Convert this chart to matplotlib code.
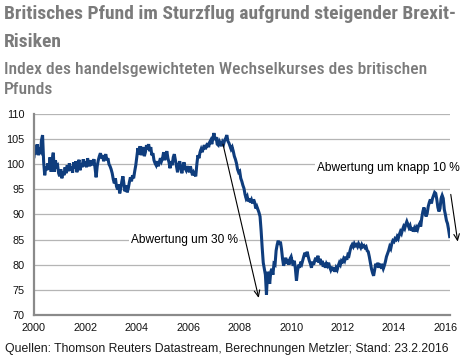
import matplotlib
matplotlib.use("Agg")
import matplotlib.pyplot as plt
import numpy as np
from matplotlib import font_manager

# semi-monthly readings of the trade-weighted GBP index, one list per year
index_2000 = [101.5, 103.8, 102.0, 104.0, 101.8, 102.8, 102.5, 104.8, 105.8, 100.5, 97.8, 99.5,
              98.8, 100.2, 99.0, 101.4, 98.5, 101.0, 102.3, 98.5, 100.8, 99.6, 99.8, 98.2]
index_2001 = [97.6, 99.0, 97.2, 98.5, 97.8, 99.4, 98.2, 99.8, 98.6, 100.2, 98.8, 99.5,
              98.3, 100.4, 99.2, 100.6, 98.4, 99.8, 100.9, 98.8, 100.2, 99.4, 101.0, 99.6]
index_2002 = [100.5, 99.4, 101.2, 100.2, 99.6, 100.8, 99.8, 100.4, 101.0, 99.2, 97.4, 99.6,
              100.8, 101.6, 102.2, 101.2, 101.8, 100.6, 101.4, 102.0, 100.8, 101.2, 100.0, 99.6]
index_2003 = [99.0, 98.2, 97.0, 96.2, 97.2, 95.6, 95.0, 96.0, 94.2, 95.2, 96.6, 97.6,
              96.0, 94.6, 95.8, 94.4, 95.2, 96.4, 97.4, 96.6, 97.8, 97.2, 98.6, 99.8]
index_2004 = [101.5, 103.2, 102.0, 103.6, 101.8, 102.8, 103.4, 101.6, 102.4, 103.8, 103.0, 104.0,
              102.6, 103.4, 101.8, 102.2, 100.8, 100.2, 99.8, 100.6, 99.6, 100.4, 101.2, 100.6]
index_2005 = [101.2, 102.4, 100.8, 101.8, 102.6, 101.2, 100.4, 99.2, 100.6, 99.8, 101.4, 102.0,
              100.8, 99.6, 98.4, 99.8, 100.6, 99.4, 98.2, 99.4, 100.4, 99.2, 98.8, 99.6]
index_2006 = [99.0, 98.4, 99.6, 98.6, 97.8, 98.4, 98.0, 97.6, 100.0, 101.8, 101.2, 102.4,
              103.0, 102.4, 103.2, 103.8, 103.0, 103.6, 104.2, 103.4, 104.4, 104.8, 104.0, 105.2]
index_2007 = [106.2, 104.8, 105.4, 104.0, 103.8, 104.6, 104.2, 103.6, 104.4, 104.0, 104.8, 105.2,
              105.8, 104.6, 104.2, 103.6, 103.0, 103.4, 102.6, 101.6, 101.0, 100.2, 99.0, 98.4]
index_2008 = [98.6, 97.2, 96.6, 95.8, 95.2, 94.0, 93.2, 93.6, 92.6, 93.2, 92.4, 92.9,
              92.2, 93.0, 92.4, 91.2, 91.6, 91.0, 90.4, 89.6, 86.8, 83.4, 80.4, 79.2]
index_2009 = [78.0, 74.0, 78.6, 77.8, 76.2, 78.6, 79.2, 78.0, 80.2, 80.0, 82.8, 84.0,
              84.8, 84.0, 84.6, 83.2, 81.2, 79.8, 80.6, 81.4, 80.2, 81.0, 80.0, 81.2]
index_2010 = [81.6, 80.6, 79.8, 80.8, 79.2, 76.8, 78.8, 80.0, 79.4, 80.6, 80.2, 81.0,
              81.8, 82.4, 81.6, 82.6, 81.6, 80.8, 80.2, 79.4, 80.6, 80.0, 80.8, 81.4]
index_2011 = [80.6, 81.8, 80.4, 81.2, 80.0, 80.8, 79.6, 80.4, 79.4, 80.2, 79.8, 80.4,
              79.6, 79.0, 79.6, 78.8, 79.4, 78.6, 79.4, 79.0, 79.8, 80.4, 80.0, 80.8]
index_2012 = [80.6, 81.2, 80.8, 81.6, 81.0, 82.0, 81.8, 82.8, 83.6, 84.0, 83.6, 84.2,
              83.8, 84.0, 83.6, 84.2, 83.8, 83.4, 84.0, 83.6, 83.8, 83.4, 83.6, 82.8]
index_2013 = [82.6, 81.6, 80.4, 79.2, 78.4, 77.8, 79.0, 80.2, 79.6, 80.4, 79.4, 80.2,
              79.6, 79.8, 79.2, 79.8, 80.6, 81.6, 82.2, 82.8, 83.6, 83.2, 84.2, 84.8]
index_2014 = [84.6, 85.2, 85.0, 85.6, 85.2, 86.0, 86.6, 86.2, 87.0, 87.6, 87.2, 88.0,
              88.6, 88.0, 87.4, 87.8, 86.8, 87.4, 86.6, 87.2, 86.6, 87.4, 87.0, 87.8]
index_2015 = [88.2, 87.6, 89.4, 90.6, 91.4, 90.4, 89.6, 90.2, 91.6, 92.4, 93.0, 92.2,
              93.2, 93.8, 94.4, 94.2, 93.0, 91.4, 90.6, 91.2, 93.2, 93.8, 93.2, 91.0]
index_2016 = [90.0, 88.8, 88.2, 87.0, 85.6]

yearly = [index_2000, index_2001, index_2002, index_2003, index_2004, index_2005,
          index_2006, index_2007, index_2008, index_2009, index_2010, index_2011,
          index_2012, index_2013, index_2014, index_2015, index_2016]

x_ticks = [2000, 2002, 2004, 2006, 2008, 2010, 2012, 2014, 2016]
y_ticks = [70, 75, 80, 85, 90, 95, 100, 105, 110]

title_lines = ["Britisches Pfund im Sturzflug aufgrund steigender Brexit-", "Risiken"]
subtitle_lines = ["Index des handelsgewichteten Wechselkurses des britischen", "Pfunds"]
note_30 = "Abwertung um 30 %"
note_10 = "Abwertung um knapp 10 %"
source = "Quellen: Thomson Reuters Datastream, Berechnungen Metzler; Stand: 23.2.2016"

dates = []
values = []
for i, vals in enumerate(yearly):
    for k, v in enumerate(vals):
        dates.append(2000 + i + k / 24)
        values.append(v)

available = {f.name for f in font_manager.fontManager.ttflist}


def pick(*names):
    for n in names:
        if n in available:
            return n
    return "DejaVu Sans"


narrow = pick("Liberation Sans Narrow", "Roboto Condensed", "Open Sans Condensed", "Liberation Sans")
body = pick("Liberation Sans", "Arial", "DejaVu Sans")
plt.rcParams["font.family"] = body

W, H = 464, 358
fig = plt.figure(figsize=(W / 100, H / 100), dpi=100)
ax = fig.add_axes([34 / W, 1 - 315 / H, 416 / W, 201 / H])

ax.plot(dates, values, color="#0f3d7d", lw=2.2, zorder=3, solid_joinstyle="miter")

ax.set_xlim(2000, 2016.18)
ax.set_ylim(70, 110)
ax.set_xticks(x_ticks)
ax.set_yticks(y_ticks)
ax.tick_params(length=0, labelsize=7.8, colors="#111111")
ax.tick_params(axis="y", pad=7)
ax.tick_params(axis="x", pad=6)
ax.grid(axis="y", color="#b5b5b5", lw=0.9)
ax.set_axisbelow(True)
for s in ["top", "right"]:
    ax.spines[s].set_visible(False)
for s in ["left", "bottom"]:
    ax.spines[s].set_color("#8a8a8a")
    ax.spines[s].set_linewidth(1.6)
    ax.spines[s].set_zorder(4)

box = dict(facecolor="white", edgecolor="none", pad=1)
ax.text(2003.76, 84.9, note_30, fontsize=8.6, va="center", ha="left", bbox=box, zorder=2)
ax.text(2010.99, 99.3, note_10, fontsize=8.6, va="center", ha="left", bbox=box, zorder=2)

arrow = dict(arrowstyle="->,head_length=0.45,head_width=0.2", color="black", lw=0.8,
             shrinkA=0, shrinkB=0)
ax.annotate("", xy=(2008.74, 73.4), xytext=(2007.35, 104.0), arrowprops=arrow,
            annotation_clip=False, zorder=5)
ax.annotate("", xy=(2016.48, 84.6), xytext=(2016.21, 94.0), arrowprops=arrow,
            annotation_clip=False, zorder=5)

gray = "#7b7b7b"
fig.text(4 / W, 1 - 19 / H, title_lines[0], family=narrow, weight="bold", fontsize=14.0,
         color=gray, va="baseline")
fig.text(4 / W, 1 - 47 / H, title_lines[1], family=narrow, weight="bold", fontsize=14.0,
         color=gray, va="baseline")
fig.text(4 / W, 1 - 74 / H, subtitle_lines[0], family=narrow, weight="medium", fontsize=12.6,
         color=gray, va="baseline")
fig.text(4 / W, 1 - 94 / H, subtitle_lines[1], family=narrow, weight="medium", fontsize=12.6,
         color=gray, va="baseline")

fig.text(5 / W, 1 - 352 / H, source, fontsize=8.8, color="#1a1a1a", va="baseline")

fig.savefig("out.png", dpi=100)
